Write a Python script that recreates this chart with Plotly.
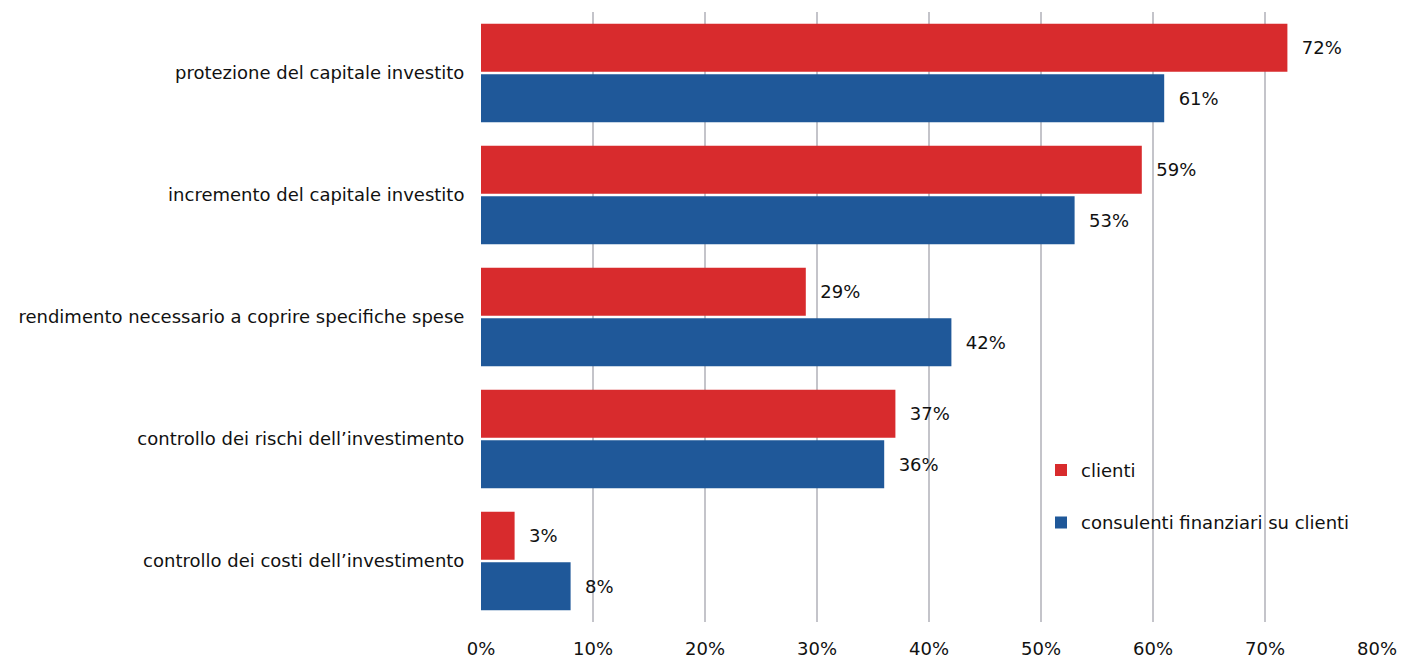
import plotly.graph_objects as go

categorie = [
    "protezione del capitale investito",
    "incremento del capitale investito",
    "rendimento necessario a coprire specifiche spese",
    "controllo dei rischi dell\u2019investimento",
    "controllo dei costi dell\u2019investimento",
]
clienti = [72, 59, 29, 37, 3]
consulenti = [61, 53, 42, 36, 8]
serie = ["clienti", "consulenti finanziari su clienti"]
tick_valori = [0, 10, 20, 30, 40, 50, 60, 70, 80]
tick_testi = [f"{v}%" for v in tick_valori]

ROSSO = "#d82b2d"
BLU = "#1f5899"
FONT = "DejaVu Sans, Verdana, sans-serif"
NBSP = "\u00a0"

fig = go.Figure()
for nome, valori, colore, gruppo in [
    (serie[0], clienti, ROSSO, "a"),
    (serie[1], consulenti, BLU, "b"),
]:
    fig.add_trace(go.Bar(
        y=categorie,
        x=valori,
        name=nome,
        orientation="h",
        marker=dict(color=colore, line=dict(width=0)),
        text=[f"{NBSP}{NBSP}{v}%" for v in valori],
        textposition="outside",
        textfont=dict(family=FONT, size=18, color="#111111"),
        cliponaxis=False,
        legendgroup=gruppo,
    ))

fig.update_layout(
    width=1402,
    height=661,
    margin=dict(l=481, r=25, t=12, b=39),
    paper_bgcolor="white",
    plot_bgcolor="white",
    barmode="group",
    bargap=0.17,
    bargroupgap=0.05,
    font=dict(family=FONT, size=18, color="#111111"),
    legend=dict(
        x=0.625, y=0.279, xanchor="left", yanchor="top",
        bgcolor="rgba(0,0,0,0)",
        font=dict(family=FONT, size=18, color="#111111"),
        tracegroupgap=26,
        itemwidth=30,
    ),
    xaxis=dict(
        range=[0, 80],
        tickvals=tick_valori,
        ticktext=tick_testi,
        showgrid=True,
        gridcolor="#c4c4ca",
        gridwidth=2,
        zeroline=False,
        showline=False,
        ticks="outside",
        ticklen=10,
        tickcolor="rgba(0,0,0,0)",
        tickfont=dict(family=FONT, size=18),
        automargin=False,
    ),
    yaxis=dict(
        autorange="reversed",
        showgrid=False,
        showline=False,
        ticks="outside",
        ticklen=12,
        tickcolor="rgba(0,0,0,0)",
        tickfont=dict(family=FONT, size=18),
        automargin=False,
    ),
)

fig.write_html("out.html")
